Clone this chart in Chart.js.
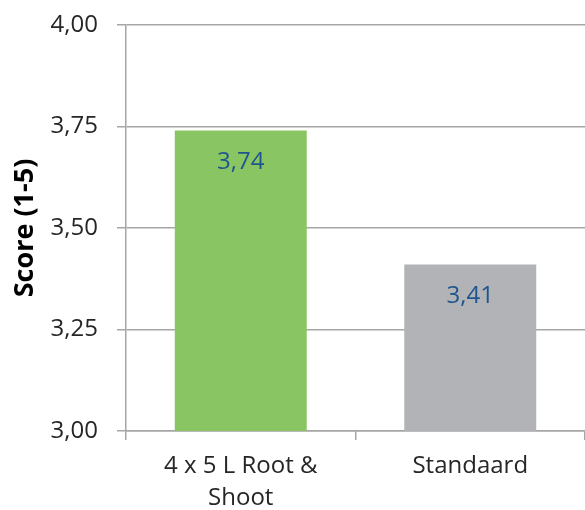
<!DOCTYPE html>
<html>
<head>
<meta charset="utf-8">
<script src="https://cdn.jsdelivr.net/npm/chart.js@4"></script>
<style>
  html, body { margin: 0; padding: 0; background: #fff; }
  #wrap { width: 585px; height: 510px; }
</style>
</head>
<body>
<div id="wrap"><canvas id="chart"></canvas></div>
<script>
const categories = [["4 x 5 L Root &", "Shoot"], "Standaard"];
const scores = [3.74, 3.41];
const barColors = ["#89C663", "#B2B3B6"];
const yTicks = [3.0, 3.25, 3.5, 3.75, 4.0];

const fmt = (v) => Number(v).toFixed(2).replace(".", ",");

// draws the value inside each bar, just under its top
const valueLabels = {
  id: "valueLabels",
  afterDatasetsDraw(chart) {
    const ctx = chart.ctx;
    const meta = chart.getDatasetMeta(0);
    ctx.save();
    ctx.font = "24px 'Open Sans'";
    ctx.fillStyle = "#1F558E";
    ctx.textAlign = "center";
    ctx.textBaseline = "middle";
    meta.data.forEach((bar, i) => {
      ctx.fillText(fmt(scores[i]), bar.x, bar.y + 32);
    });
    ctx.restore();
  },
};

const grey = "#A6A6A6";

new Chart(document.getElementById("chart"), {
  type: "bar",
  data: {
    labels: categories,
    datasets: [
      {
        data: scores,
        backgroundColor: barColors,
        borderWidth: 0,
        barPercentage: 1,
        categoryPercentage: 0.575,
      },
    ],
  },
  options: {
    responsive: true,
    maintainAspectRatio: false,
    animation: false,
    layout: { padding: { top: 25, right: 0, left: 0, bottom: 0 } },
    plugins: {
      legend: { display: false },
      tooltip: { enabled: false },
    },
    scales: {
      x: {
        grid: {
          drawOnChartArea: false,
          color: grey,
          lineWidth: 1.5,
          tickLength: 9,
        },
        border: { color: grey, width: 1.5 },
        ticks: {
          color: "#262626",
          font: { family: "Open Sans", size: 24, lineHeight: 1.3 },
          padding: 11,
          maxRotation: 0,
          autoSkip: false,
        },
        afterFit(scale) {
          scale.height = 79;
        },
      },
      y: {
        min: 3,
        max: 4,
        afterBuildTicks(scale) {
          scale.ticks = yTicks.map((v) => ({ value: v }));
        },
        grid: {
          color: grey,
          lineWidth: 1.5,
          tickLength: 9,
        },
        border: { color: grey, width: 1.5 },
        ticks: {
          color: "#262626",
          font: { family: "Open Sans", size: 24 },
          padding: 19,
          callback: (v) => fmt(v),
        },
        title: {
          display: true,
          text: "Score (1-5)",
          color: "#000",
          font: { family: "Open Sans", size: 27, weight: "bold" },
          padding: { top: 9, bottom: 0 },
        },
        afterFit(scale) {
          scale.width = 126;
          scale.paddingTop = 0;
          scale.paddingBottom = 0;
        },
      },
    },
  },
  plugins: [valueLabels],
});
</script>
</body>
</html>
